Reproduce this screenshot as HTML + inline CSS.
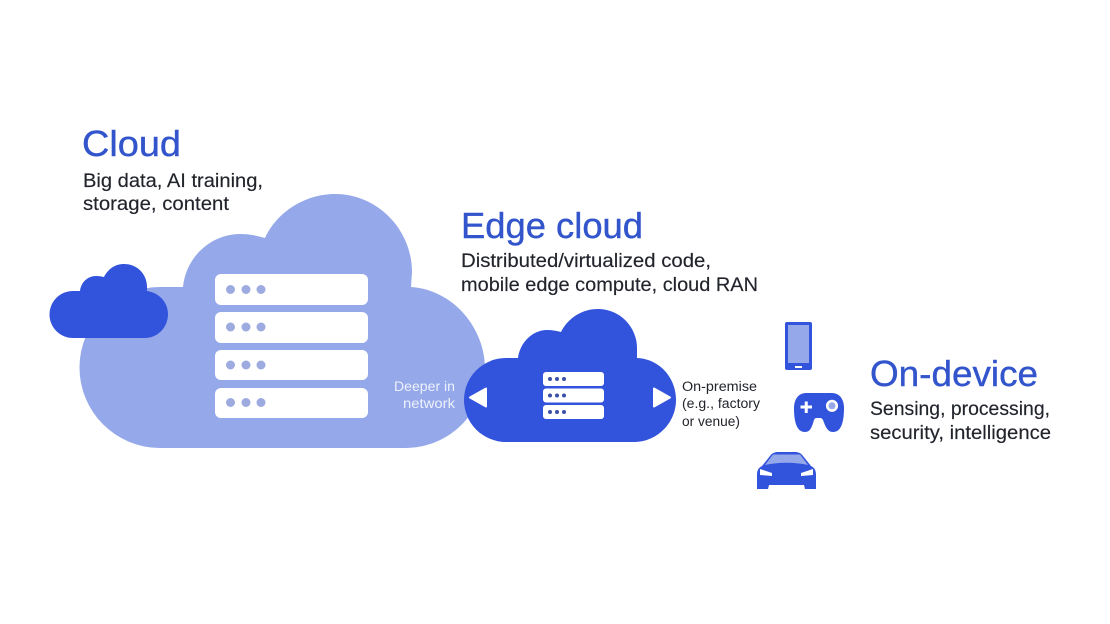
<!DOCTYPE html>
<html><head><meta charset="utf-8"><style>
html,body{margin:0;padding:0;background:#fff;width:1110px;height:624px;overflow:hidden}
svg{display:block}
text{font-family:"Liberation Sans",sans-serif}
.t{font-size:36px;fill:#3355cc;stroke:#3355cc;stroke-width:.4}
.b{font-size:19.500px;fill:#22242c;stroke:#22242c;stroke-width:.15}
.s{font-size:13.500px;fill:#22242c}
.w{font-size:13.500px;fill:#eef1fc}
</style></head><body>
<svg width="1110" height="624" viewBox="0 0 1110 624" xmlns="http://www.w3.org/2000/svg">
<rect width="1110" height="624" fill="#fff"/>
<path fill="#94a8ea" d="M160 448A80.500 80.500 0 0 1 160 287L183 287C186 256 212 234 240 234C250 234 258 236 265 238C277 212 305 194 335 194C378 194 412 230 412 272L411 287C455 290 485 330 485 368C485 412 450 448 405 448Z"/>
<path fill="#3253dc" d="M73 338A23.500 23.500 0 0 1 73 291L80 291C81 282 88 276 96 276Q100 276 104 277C108 269 115 264 124 264C137 264 147 274 147 287L147 291C160 293 168 303 168 314C168 328 157 338 145 338Z"/>
<g fill="#fff">
<rect x="215" y="274" width="153" height="31" rx="6"/>
<rect x="215" y="312" width="153" height="31" rx="6"/>
<rect x="215" y="350" width="153" height="30" rx="6"/>
<rect x="215" y="388" width="153" height="30" rx="6"/>
</g>
<g fill="#9dabe0">
<circle cx="230.500" cy="289.500" r="4.500"/><circle cx="246" cy="289.500" r="4.500"/><circle cx="261" cy="289.500" r="4.500"/>
<circle cx="230.500" cy="327" r="4.500"/><circle cx="246" cy="327" r="4.500"/><circle cx="261" cy="327" r="4.500"/>
<circle cx="230.500" cy="365" r="4.500"/><circle cx="246" cy="365" r="4.500"/><circle cx="261" cy="365" r="4.500"/>
<circle cx="230.500" cy="402.500" r="4.500"/><circle cx="246" cy="402.500" r="4.500"/><circle cx="261" cy="402.500" r="4.500"/>
</g>
<path fill="#3253dc" d="M506 442A42 42 0 0 1 506 358L518 358C520 342 533 330 547 330C552 330 557 331 561 332C568 318 582 309 598 309C620 309 637 327 637 348L637 358C660 359 676 378 676 400C676 423 657 442 634 442Z"/>
<g fill="#fff">
<rect x="543" y="372" width="61" height="14" rx="3"/>
<rect x="543" y="388.500" width="61" height="14" rx="3"/>
<rect x="543" y="405" width="61" height="14" rx="3"/>
</g>
<g fill="#3c50a8">
<circle cx="550" cy="379" r="2"/><circle cx="557" cy="379" r="2"/><circle cx="564" cy="379" r="2"/>
<circle cx="550" cy="395.500" r="2"/><circle cx="557" cy="395.500" r="2"/><circle cx="564" cy="395.500" r="2"/>
<circle cx="550" cy="412" r="2"/><circle cx="557" cy="412" r="2"/><circle cx="564" cy="412" r="2"/>
</g>
<g fill="#fff" stroke="#fff" stroke-width="2" stroke-linejoin="round">
<path d="M470 397.500L486 388.500L486 406.500Z"/>
<path d="M654 388.500L670 397.500L654 406.500Z"/>
</g>
<!-- phone -->
<rect x="785" y="322" width="27" height="48" rx="2" fill="#3253dc"/>
<rect x="788" y="325" width="21" height="38" fill="#94a8ea"/>
<rect x="795" y="366" width="7" height="2" fill="#fff"/>
<!-- gamepad -->
<path fill="#3253dc" d="M806 393L832 393C840 393 844 400 844 408C844 420 842 432 833 432C827 432 825 425 823 420Q822 418 820 418L816 418Q815 418 814 420C812 426 811 432 805 432C796 432 794 420 794 408C794 400 798 393 806 393Z"/>
<path d="M800.500 407H812M806.250 401.500V413" stroke="#fff" stroke-width="3" fill="none"/>
<circle cx="832" cy="405.800" r="4.800" fill="#94a8ea" stroke="#fff" stroke-width="2.600"/>
<!-- car -->
<path fill="#3253dc" d="M770 456C772 453 775 452 778 452L795 452C798 452 801 453 803 456L811 466C815 468 816 471 816 475L816 489L805 489L804 485L769 485L768 489L757 489L757 475C757 471 758 468 762 466Z"/>
<path fill="#94a8ea" d="M765 465L773 454.500L800 454.500L808 465C795 462 778 462 765 465Z"/>
<path fill="#fff" d="M760 469L772 473L772 476L760 475Z"/>
<path fill="#fff" d="M813 469L801 473L801 476L813 475Z"/>
<!-- text -->
<text class="t" x="82" y="156" textLength="99" lengthAdjust="spacingAndGlyphs">Cloud</text>
<text class="b" x="83" y="187" textLength="180" lengthAdjust="spacingAndGlyphs">Big data, AI training,</text>
<text class="b" x="83" y="210" textLength="146" lengthAdjust="spacingAndGlyphs">storage, content</text>
<text class="t" x="461" y="238" textLength="182" lengthAdjust="spacingAndGlyphs">Edge cloud</text>
<text class="b" x="461" y="267" textLength="250" lengthAdjust="spacingAndGlyphs">Distributed/virtualized code,</text>
<text class="b" x="461" y="291" textLength="297" lengthAdjust="spacingAndGlyphs">mobile edge compute, cloud RAN</text>
<text class="t" x="870" y="386" textLength="168" lengthAdjust="spacingAndGlyphs">On-device</text>
<text class="b" x="870" y="415" textLength="180" lengthAdjust="spacingAndGlyphs">Sensing, processing,</text>
<text class="b" x="870" y="439" textLength="181" lengthAdjust="spacingAndGlyphs">security, intelligence</text>
<text class="w" x="394" y="391" textLength="61" lengthAdjust="spacingAndGlyphs">Deeper in</text>
<text class="w" x="403" y="408" textLength="52" lengthAdjust="spacingAndGlyphs">network</text>
<text class="s" x="682" y="391" textLength="75" lengthAdjust="spacingAndGlyphs">On-premise</text>
<text class="s" x="682" y="408" textLength="78" lengthAdjust="spacingAndGlyphs">(e.g., factory</text>
<text class="s" x="682" y="426" textLength="58" lengthAdjust="spacingAndGlyphs">or venue)</text>
</svg>
</body></html>
